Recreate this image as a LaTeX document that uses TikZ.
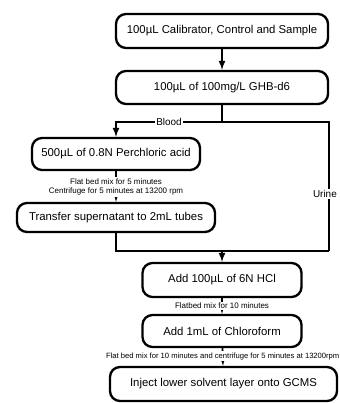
\documentclass[tikz,border=0pt]{standalone}
\usepackage{fontspec}
\setmainfont{Liberation Sans}
\usetikzlibrary{arrows}

\tikzset{
  stepbox/.style={draw, line width=2pt, rounded corners=0.3cm, fill=white,
    inner sep=0pt, font=\fontsize{9.7}{12}\selectfont},
  note/.style={fill=white, inner sep=1pt, align=center,
    font=\fontsize{6.8}{8.2}\selectfont},
  link/.style={line width=1.6pt}
}

\begin{document}
\begin{tikzpicture}[x=0.03cm, y=-0.03cm]

  \useasboundingbox (0,0) rectangle (339,403);

        % boxes
  \node[stepbox, minimum width=6.36cm, minimum height=1.02cm] (cal) at (222,31)
    {100µL Calibrator, Control and Sample};
  \node[stepbox, minimum width=6.36cm, minimum height=0.99cm] (istd) at (222,87.5)
    {100µL of 100mg/L GHB-d6};
  \node[stepbox, minimum width=5.04cm, minimum height=0.96cm] (perch) at (116,154)
    {500µL of 0.8N Perchloric acid};
  \node[stepbox, minimum width=5.94cm, minimum height=0.87cm] (transfer) at (116,217.5)
    {Transfer supernatant to 2mL tubes};
  \node[stepbox, minimum width=4.77cm, minimum height=1.02cm] (hcl) at (222,280)
    {Add 100µL of 6N HCl};
  \node[stepbox, minimum width=4.77cm, minimum height=0.96cm] (chloro) at (222,331)
    {Add 1mL of Chloroform};
  \node[stepbox, minimum width=6.81cm, minimum height=1.02cm] (inject) at (223.5,384)
    {Inject lower solvent layer onto GCMS};

  \coordinate (split) at (222,122);
  \coordinate (bl) at (116,122);
  \coordinate (ur) at (329,122);
  \coordinate (ur2) at (329,251);
  \coordinate (join) at (222,251);

        % draw links
  \draw[link, -latex] (cal) -- (istd);
  \draw[link] (istd) -- (split);
  \draw[link, -latex] (split) -- node[note, font=\fontsize{8.5}{10}\selectfont] {Blood} (bl) -- (perch);
  \draw[link] (split) -- (ur) -- node[note, pos=0.56, xshift=-3.5pt, font=\fontsize{8.5}{10}\selectfont] {Urine} (ur2);
  \draw[link] (transfer) |- (ur2);
  \draw[link, -latex] (join) -- (hcl);
  \draw[link, -latex] (perch) -- node[note, pos=0.52] {Flat bed mix for 5 minutes\\
    Centrifuge for 5 minutes at 13200 rpm} (transfer);
  \draw[link, -latex] (hcl) -- node[note] {Flatbed mix for 10 minutes} (chloro);
  \draw[link, -latex] (chloro) -- node[note, pos=0.45, font=\fontsize{6.5}{7.5}\selectfont] {Flat bed mix for 10 minutes and centrifuge for 5 minutes at 13200rpm} (inject);

\end{tikzpicture}
\end{document}
